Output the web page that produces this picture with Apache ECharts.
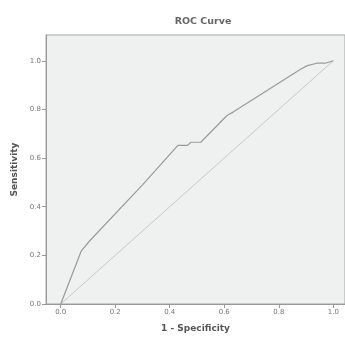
<!DOCTYPE html>
<html>
<head>
<meta charset="utf-8">
<script src="https://cdn.jsdelivr.net/npm/echarts@6/dist/echarts.min.js"></script>
<style>html,body{margin:0;padding:0;background:#fff;}#c{width:345px;height:338px;}</style>
</head>
<body>
<div id="c"></div>
<script>
var rocX = [0, 0.075, 0.105, 0.30, 0.43, 0.465, 0.478, 0.514, 0.61, 0.634, 0.88, 0.905, 0.94, 0.97, 1.0];
var rocY = [0, 0.217, 0.258, 0.49, 0.652, 0.652, 0.665, 0.665, 0.775, 0.79, 0.965, 0.98, 0.99, 0.99, 1.0];
var diagX = [0, 1];
var diagY = [0, 1];
var tickValues = [0, 0.2, 0.4, 0.6, 0.8, 1.0];
var tickLabels = ['0.0', '0.2', '0.4', '0.6', '0.8', '1.0'];

var chart = echarts.init(document.getElementById('c'));
function pairs(xs, ys) { return xs.map(function (x, i) { return [x, ys[i]]; }); }
function fmt(v) { var i = tickValues.findIndex(function (t) { return Math.abs(t - v) < 1e-9; }); return i >= 0 ? tickLabels[i] : ''; }

chart.setOption({
  animation: false,
  title: {
    text: 'ROC Curve', left: 198, top: 12, textAlign: 'center',
    textStyle: { fontSize: 9.5, fontWeight: 'bold', color: '#666', fontFamily: 'DejaVu Sans' }
  },
  grid: {
    left: 46, top: 35, right: -5, bottom: 32, show: true,
    backgroundColor: '#eff0f0', borderColor: '#a5a5a5', borderWidth: 1
  },
  xAxis: {
    type: 'value', min: -0.054, max: 1.043,
    name: '1 - Specificity', nameLocation: 'middle', nameGap: 20,
    nameTextStyle: { fontSize: 9, fontWeight: 'bold', color: '#555', fontFamily: 'DejaVu Sans' },
    axisLine: { show: true, onZero: false, lineStyle: { color: '#999' } },
    axisTick: { show: true, length: 4, customValues: tickValues, lineStyle: { color: '#999' } },
    axisLabel: { customValues: tickValues, formatter: fmt, fontSize: 7, color: '#777', margin: 5, fontFamily: 'DejaVu Sans' },
    splitLine: { show: false }
  },
  yAxis: {
    type: 'value', min: 0, max: 1.106,
    name: 'Sensitivity', nameLocation: 'middle', nameGap: 27, nameRotate: 90,
    nameTextStyle: { fontSize: 9, fontWeight: 'bold', color: '#555', fontFamily: 'DejaVu Sans' },
    axisLine: { show: true, onZero: false, lineStyle: { color: '#999' } },
    axisTick: { show: true, length: 4, customValues: tickValues, lineStyle: { color: '#999' } },
    axisLabel: { customValues: tickValues, formatter: fmt, fontSize: 7, color: '#777', margin: 5, fontFamily: 'DejaVu Sans' },
    splitLine: { show: false }
  },
  series: [
    {
      type: 'line', data: pairs(diagX, diagY), symbol: 'none',
      lineStyle: { color: '#bdbdbd', width: 0.8 }, z: 2
    },
    {
      type: 'line', data: pairs(rocX, rocY), symbol: 'none',
      lineStyle: { color: '#9a9a9a', width: 1.2 }, z: 3
    }
  ]
});
</script>
</body>
</html>
